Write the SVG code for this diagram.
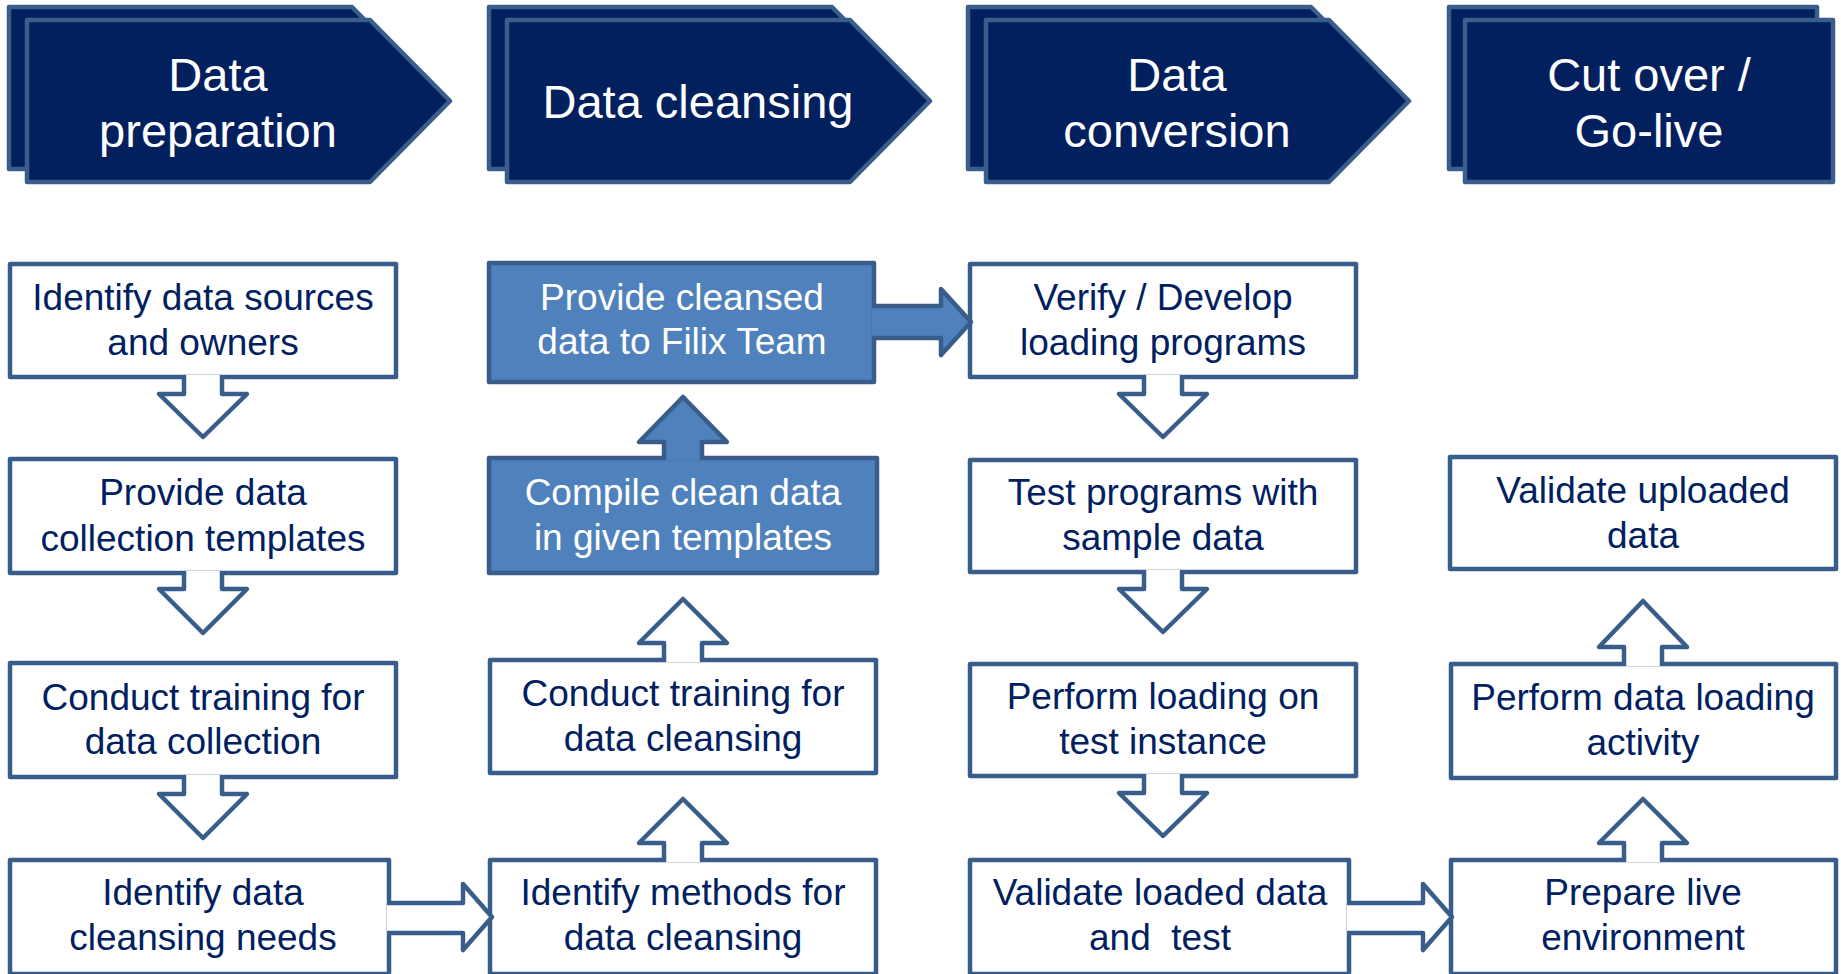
<svg xmlns="http://www.w3.org/2000/svg" width="1841" height="974" viewBox="0 0 1841 974">
<style>
  .hdr { fill: #02205E; stroke: #3A5E8C; stroke-width: 4.5; stroke-linejoin: round; }
  .htxt { font-family: "Liberation Sans", Arial, sans-serif; font-size: 47px; fill: #FFFFFF; text-anchor: middle; }
  .box { fill: #FFFFFF; stroke: #395D8A; stroke-width: 4.5; stroke-linejoin: round; }
  .hbox { fill: #4F81BD; stroke: #385D8A; stroke-width: 4.5; stroke-linejoin: round; }
  .txt { font-family: "Liberation Sans", Arial, sans-serif; font-size: 37px; fill: #002060; text-anchor: middle; }
  .wtxt { font-family: "Liberation Sans", Arial, sans-serif; font-size: 37px; fill: #FFFFFF; text-anchor: middle; }
  .arr { fill: #FFFFFF; stroke: #395D8A; stroke-width: 4.5; stroke-linejoin: round; }
  .harr { fill: #4F81BD; stroke: #385D8A; stroke-width: 4.5; stroke-linejoin: round; }
</style>

<!-- Phase headers -->
<g id="phase-data-preparation">
  <polygon class="hdr" points="9,7 352,7 432,88 352,169 9,169"/>
  <polygon class="hdr" points="27,20 370,20 450,101 370,182 27,182"/>
  <text class="htxt" x="218" y="91">Data</text>
  <text class="htxt" x="218" y="147">preparation</text>
</g>
<g id="phase-data-cleansing">
  <polygon class="hdr" points="489,7 832,7 912,88 832,169 489,169"/>
  <polygon class="hdr" points="507,20 850,20 930,101 850,182 507,182"/>
  <text class="htxt" x="698" y="118">Data cleansing</text>
</g>
<g id="phase-data-conversion">
  <polygon class="hdr" points="968,7 1311,7 1391,88 1311,169 968,169"/>
  <polygon class="hdr" points="986,20 1329,20 1409,101 1329,182 986,182"/>
  <text class="htxt" x="1177" y="91">Data</text>
  <text class="htxt" x="1177" y="147">conversion</text>
</g>
<g id="phase-cut-over">
  <rect class="hdr" x="1449" y="7" width="368" height="162"/>
  <rect class="hdr" x="1465" y="20" width="368" height="162"/>
  <text class="htxt" x="1649" y="91">Cut over /</text>
  <text class="htxt" x="1649" y="147">Go-live</text>
</g>

<!-- Column 1 -->
<g id="c1-identify-sources">
  <rect class="box" x="10" y="264" width="386" height="113"/>
  <text class="txt" x="203" y="310">Identify data sources</text>
  <text class="txt" x="203" y="355">and owners</text>
</g>
<g id="c1-provide-templates">
  <rect class="box" x="10" y="459" width="386" height="114"/>
  <text class="txt" x="203" y="505">Provide data</text>
  <text class="txt" x="203" y="551">collection templates</text>
</g>
<g id="c1-conduct-training">
  <rect class="box" x="10" y="663" width="386" height="114"/>
  <text class="txt" x="203" y="710">Conduct training for</text>
  <text class="txt" x="203" y="754">data collection</text>
</g>
<g id="c1-identify-needs">
  <rect class="box" x="10" y="860" width="379" height="114"/>
  <text class="txt" x="203" y="905">Identify data</text>
  <text class="txt" x="203" y="950">cleansing needs</text>
</g>

<!-- Column 2 -->
<g id="c2-provide-cleansed">
  <rect class="hbox" x="489" y="263" width="385" height="119"/>
  <text class="wtxt" x="682" y="310">Provide cleansed</text>
  <text class="wtxt" x="682" y="354">data to Filix Team</text>
</g>
<g id="c2-compile">
  <rect class="hbox" x="489" y="458" width="388" height="115"/>
  <text class="wtxt" x="683" y="505">Compile clean data</text>
  <text class="wtxt" x="683" y="550">in given templates</text>
</g>
<g id="c2-conduct-training">
  <rect class="box" x="490" y="660" width="386" height="113"/>
  <text class="txt" x="683" y="706">Conduct training for</text>
  <text class="txt" x="683" y="751">data cleansing</text>
</g>
<g id="c2-identify-methods">
  <rect class="box" x="490" y="860" width="386" height="114"/>
  <text class="txt" x="683" y="905">Identify methods for</text>
  <text class="txt" x="683" y="950">data cleansing</text>
</g>

<!-- Column 3 -->
<g id="c3-verify">
  <rect class="box" x="970" y="264" width="386" height="113"/>
  <text class="txt" x="1163" y="310">Verify / Develop</text>
  <text class="txt" x="1163" y="355">loading programs</text>
</g>
<g id="c3-test-programs">
  <rect class="box" x="970" y="460" width="386" height="112"/>
  <text class="txt" x="1163" y="505">Test programs with</text>
  <text class="txt" x="1163" y="550">sample data</text>
</g>
<g id="c3-perform-loading">
  <rect class="box" x="970" y="664" width="386" height="112"/>
  <text class="txt" x="1163" y="709">Perform loading on</text>
  <text class="txt" x="1163" y="754">test instance</text>
</g>
<g id="c3-validate-loaded">
  <rect class="box" x="970" y="860" width="379" height="114"/>
  <text class="txt" x="1160" y="905">Validate loaded data</text>
  <text class="txt" x="1160" y="950" style="white-space:pre">and  test</text>
</g>

<!-- Column 4 -->
<g id="c4-validate-uploaded">
  <rect class="box" x="1450" y="457" width="386" height="112"/>
  <text class="txt" x="1643" y="503">Validate uploaded</text>
  <text class="txt" x="1643" y="548">data</text>
</g>
<g id="c4-perform-data-loading">
  <rect class="box" x="1451" y="664" width="385" height="114"/>
  <text class="txt" x="1643" y="710">Perform data loading</text>
  <text class="txt" x="1643" y="755">activity</text>
</g>
<g id="c4-prepare-live">
  <rect class="box" x="1451" y="860" width="385" height="114"/>
  <text class="txt" x="1643" y="905">Prepare live</text>
  <text class="txt" x="1643" y="950">environment</text>
</g>

<!-- Connectors (block arrows) -->
<g id="connectors">
  <!-- column 1 down arrows -->
  <path class="arr" d="M184,375 L184,394 L159,394 L203,437 L247,394 L222,394 L222,375"/>
  <path class="arr" d="M184,571 L184,589 L159,589 L203,633 L247,589 L222,589 L222,571"/>
  <path class="arr" d="M184,775 L184,794 L159,794 L203,838 L247,794 L222,794 L222,775"/>
  <!-- column 1 -> column 2 -->
  <path class="arr" d="M387,903 L463,903 L463,884 L492,917 L463,950 L463,933 L387,933"/>
  <!-- column 2 up arrows -->
  <path class="arr" d="M664,862 L664,843 L639,843 L683,799 L727,843 L702,843 L702,862"/>
  <path class="arr" d="M664,662 L664,643 L639,643 L683,599 L727,643 L702,643 L702,662"/>
  <path class="harr" d="M664,460 L664,442 L639,442 L683,397 L727,442 L702,442 L702,460"/>
  <!-- column 2 -> column 3 -->
  <path class="harr" d="M872,306 L941,306 L941,289 L971,322 L941,355 L941,338 L872,338"/>
  <!-- column 3 down arrows -->
  <path class="arr" d="M1144,375 L1144,394 L1119,394 L1163,437 L1207,394 L1182,394 L1182,375"/>
  <path class="arr" d="M1144,570 L1144,589 L1119,589 L1163,632 L1207,589 L1182,589 L1182,570"/>
  <path class="arr" d="M1144,774 L1144,793 L1119,793 L1163,836 L1207,793 L1182,793 L1182,774"/>
  <!-- column 3 -> column 4 -->
  <path class="arr" d="M1347,903 L1423,903 L1423,884 L1452,917 L1423,950 L1423,933 L1347,933"/>
  <!-- column 4 up arrows -->
  <path class="arr" d="M1624,862 L1624,843 L1599,843 L1643,799 L1687,843 L1662,843 L1662,862"/>
  <path class="arr" d="M1624,666 L1624,647 L1599,647 L1643,601 L1687,647 L1662,647 L1662,666"/>
</g>
</svg>
